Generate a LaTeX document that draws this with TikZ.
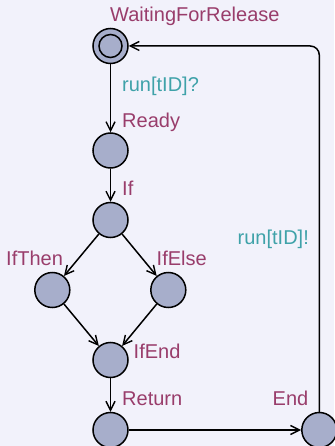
\documentclass[tikz,border=0pt]{standalone}
\usepackage{fontspec}
\setmainfont{Liberation Sans}
\usetikzlibrary{arrows.meta,calc}
\definecolor{bgcol}{HTML}{F2F2FB}
\definecolor{locfill}{HTML}{A7AECB}
\definecolor{namecol}{HTML}{993D6B}
\definecolor{synccol}{HTML}{3FA2A9}
\tikzset{
  x=1pt, y=-1pt,
  loc/.style = {circle, draw=black, fill=locfill, line width=1.5pt, minimum size=35pt, inner sep=0pt},
  lbl/.style = {inner sep=0pt, anchor=base west, font=\fontsize{20}{23}\selectfont},
  locname/.style = {lbl, text=namecol},
  syncname/.style = {lbl, text=synccol},
  trans/.style = {line width=1.5pt, -{Straight Barb[length=9pt,width=9pt,line width=1.4pt]}}
}
\begin{document}
\begin{tikzpicture}
	\fill[bgcol] (0,0) rectangle (334,446);
	\useasboundingbox (0,0) rectangle (334,446);
	% locations
	\node [loc] (wait) at (110.5,46) {};
	\draw [line width=1.5pt] (wait) circle (11.5pt);
	\node [loc] (ready) at (110.5,150.5) {};
	\node [loc] (if) at (110.5,220) {};
	\node [loc] (ifthen) at (52.3,290) {};
	\node [loc] (ifelse) at (168.3,290) {};
	\node [loc] (ifend) at (110.5,360) {};
	\node [loc] (return) at (110.5,430) {};
	\node [loc] (end) at (319.3,430) {};
	% location names
	\node [locname] (nwait) at (110,21.5) {WaitingForRelease};
	\node [locname] (nready) at (122,128) {Ready};
	\node [locname] (nif) at (122,196) {If};
	\node [locname] (nifthen) at (6,265.5) {IfThen};
	\node [locname] (nifelse) at (156.5,265.5) {IfElse};
	\node [locname] (nifend) at (133.5,358) {IfEnd};
	\node [locname] (nreturn) at (122,405) {Return};
	\node [locname] (nend) at (272.5,405) {End};
	% synchronisations
	\node [syncname] (srun) at (122,92) {run[tID]?};
	\node [syncname] (sdone) at (237.5,244) {run[tID]!};
	% transitions
	\draw [trans] (wait) -- (ready);
	\draw [trans] (ready) -- (if);
	\draw [trans] (if) -- (ifthen);
	\draw [trans] (if) -- (ifelse);
	\draw [trans] (ifthen) -- (ifend);
	\draw [trans] (ifelse) -- (ifend);
	\draw [trans] (ifend) -- (return);
	\draw [trans] (return) -- (end);
	\draw [trans, rounded corners=9pt] (end.north) |- (wait.east);
\end{tikzpicture}
\end{document}
